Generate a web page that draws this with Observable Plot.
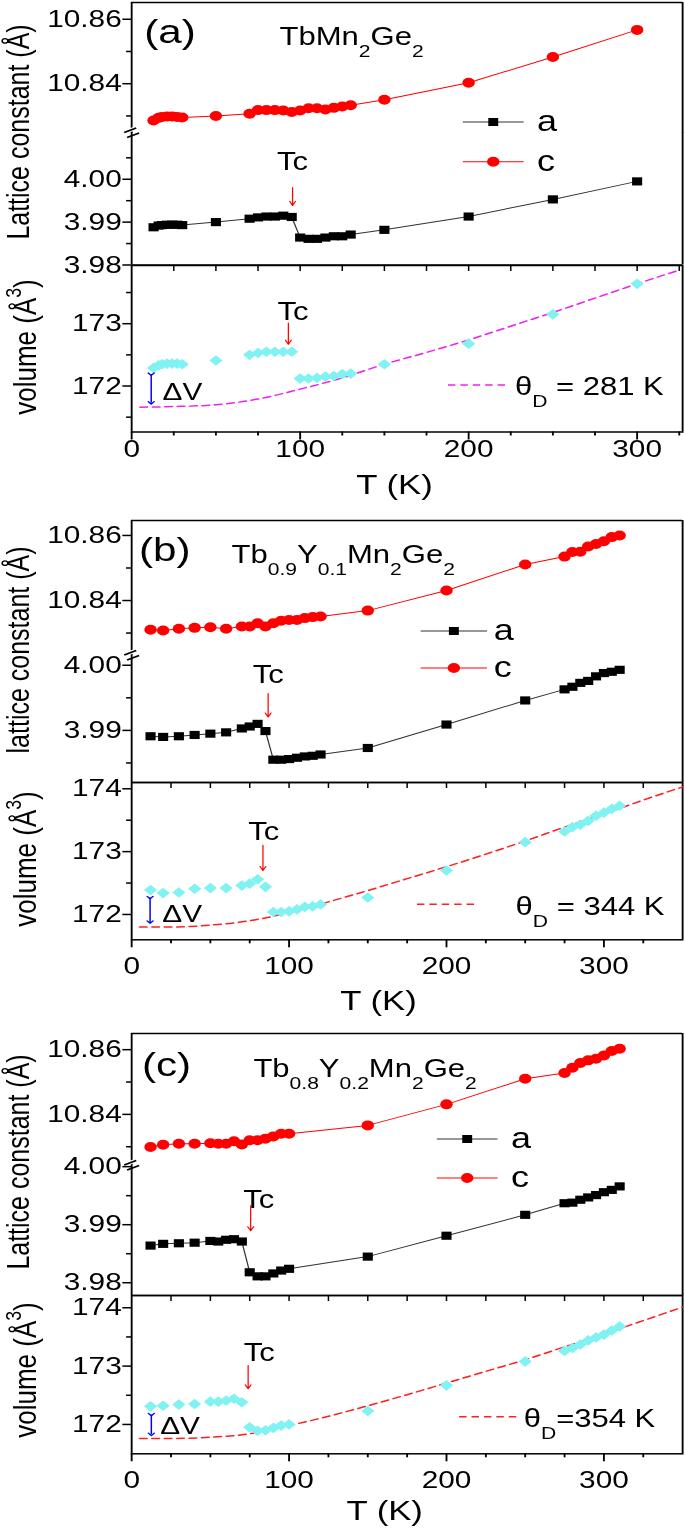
<!DOCTYPE html>
<html>
<head>
<meta charset="utf-8">
<script src="https://cdn.jsdelivr.net/npm/d3@7"></script>
<script src="https://cdn.jsdelivr.net/npm/@observablehq/plot@0.6"></script>
<style>
html,body{margin:0;padding:0;background:#fff;overflow:hidden;}
#fig{position:relative;width:552px;height:1531px;transform:scaleX(1.2409);transform-origin:0 0;font-family:"Liberation Sans",Arial,sans-serif;color:#000;}
.seg{position:absolute;left:0;width:552px;}
.seg svg{overflow:visible;display:block;}
#ov{position:absolute;left:0;top:0;overflow:visible;pointer-events:none;}
</style>
</head>
<body>
<div id="fig"></div>
<script>
// ================= DATA =================
// (a) TbMn2Ge2
const T_a = [13,16,18,21,24,27,30,50,70,75,80,85,90,95,100,105,110,115,120,125,130,150,200,250,300];
const latA_a = [3.9888,3.9892,3.9893,3.9894,3.9894,3.9894,3.9893,3.9900,3.9908,3.9911,3.9913,3.9913,3.9915,3.9912,3.9864,3.9861,3.9861,3.9864,3.9867,3.9867,3.9871,3.9882,3.9913,3.9953,3.9995];
const latC_a = [10.8286,10.8294,10.8297,10.8298,10.8298,10.8297,10.8295,10.8300,10.8307,10.8318,10.8318,10.8318,10.8317,10.8312,10.8317,10.8324,10.8324,10.8320,10.8325,10.8329,10.8333,10.8350,10.8403,10.8483,10.8567];
const vol_a = [172.29,172.33,172.35,172.36,172.36,172.36,172.35,172.41,172.50,172.53,172.55,172.55,172.55,172.55,172.12,172.12,172.13,172.15,172.16,172.19,172.20,172.35,172.68,173.15,173.64];
const debT_a = [5,25,50,75,100,125,150,175,200,225,250,275,300,325];
const debV_a = [171.66,171.67,171.70,171.79,171.95,172.13,172.35,172.54,172.74,172.96,173.18,173.41,173.64,173.86];

// (b) Tb0.9Y0.1Mn2Ge2
const T_b = [12,20,30,40,50,60,70,75,80,85,90,95,100,105,110,115,120,150,200,250,275,280,285,290,295,300,305,310];
const latA_b = [3.9891,3.9890,3.9891,3.9893,3.9895,3.9897,3.9903,3.9906,3.9910,3.9899,3.9855,3.9855,3.9856,3.9858,3.9860,3.9861,3.9863,3.9873,3.9909,3.9946,3.9963,3.9967,3.9973,3.9976,3.9983,3.9988,3.9990,3.9993];
const latC_b = [10.8310,10.8308,10.8313,10.8316,10.8318,10.8313,10.8320,10.8320,10.8330,10.8320,10.8330,10.8338,10.8340,10.8340,10.8346,10.8349,10.8351,10.8369,10.8431,10.8511,10.8535,10.8549,10.8550,10.8566,10.8574,10.8582,10.8595,10.8600];
const vol_b = [172.39,172.34,172.35,172.41,172.42,172.42,172.46,172.49,172.56,172.44,172.04,172.04,172.05,172.08,172.12,172.13,172.16,172.27,172.70,173.15,173.32,173.39,173.43,173.49,173.57,173.62,173.68,173.73];
const debT_b = [5,25,50,75,100,125,150,175,200,225,250,275,300,325,350];
const debV_b = [171.80,171.80,171.83,171.90,172.03,172.20,172.38,172.57,172.76,172.96,173.17,173.39,173.60,173.82,174.03];

// (c) Tb0.8Y0.2Mn2Ge2
const T_c = [12,20,30,40,50,55,60,65,70,75,80,85,90,95,100,150,200,250,275,280,285,290,295,300,305,310];
const latA_c = [3.9864,3.9867,3.9868,3.9869,3.9872,3.9871,3.9874,3.9875,3.9871,3.9818,3.9811,3.9811,3.9816,3.9821,3.9824,3.9845,3.9881,3.9917,3.9937,3.9938,3.9943,3.9947,3.9951,3.9956,3.9960,3.9966];
const latC_c = [10.8299,10.8306,10.8309,10.8309,10.8311,10.8309,10.8309,10.8317,10.8307,10.8320,10.8320,10.8325,10.8332,10.8340,10.8340,10.8366,10.8431,10.8510,10.8528,10.8544,10.8559,10.8567,10.8572,10.8582,10.8596,10.8603];
const vol_c = [172.31,172.32,172.34,172.35,172.39,172.39,172.41,172.44,172.38,171.95,171.89,171.90,171.94,171.98,172.00,172.23,172.67,173.08,173.26,173.31,173.37,173.44,173.49,173.54,173.61,173.68];
const debT_c = [5,25,50,75,100,125,150,175,200,225,250,275,300,325,350];
const debV_c = [171.76,171.76,171.78,171.84,171.98,172.14,172.32,172.51,172.71,172.91,173.11,173.33,173.55,173.78,174.01];

// Annotations: Tc arrows (T, from, to) and labels (T, value); ΔV arrows
const tcLat_a = [{T:95.5, from:3.9981, to:3.9939, labT:95.5, lab:4.0041}];
const tcLat_b = [{T:86.7, from:3.99565, to:3.99205, labT:86.8, lab:3.99846}];
const tcLat_c = [{T:75.6, from:3.99328, to:3.98897, labT:80.7, lab:3.99431}];
const tcVol_a = [{T:93, from:173.01, to:172.67, labT:95.8, lab:173.18}];
const tcVol_b = [{T:83.4, from:173.10, to:172.70, labT:83.9, lab:173.31}];
const tcVol_c = [{T:74, from:173.01, to:172.61, labT:81, lab:173.22}];
const dV_a = [{T:11.6, top:172.19, bot:171.73, labT:18.3, lab:171.895}];
const dV_b = [{T:11.7, top:172.27, bot:171.88, labT:19.5, lab:172.0}];
const dV_c = [{T:12.5, top:172.17, bot:171.83, labT:18.1, lab:171.97}];

// Tick values
const xMajor = [0,100,200,300];
const cMajor = [10.84,10.86], cMinor = [10.83,10.85];
const aMajor_a = [3.98,3.99,4.00], aMinor_a = [3.985,3.995,4.005];
const aMajor_b = [3.99,4.00], aMinor_b = [3.985,3.995];
const aMajor_c = [3.98,3.99,4.00], aMinor_c = [3.985,3.995];
const vMajor_a = [172,173], vMinor_a = [171.5,172.5,173.5];
const vMajor_bc = [172,173,174], vMinor_bc = [172.5,173.5];

const thetaD = [281, 344, 354];
const names = [
  [["Tb"],["Mn"],["2","sub"],["Ge"],["2","sub"]],
  [["Tb"],["0.9","sub"],["Y"],["0.1","sub"],["Mn"],["2","sub"],["Ge"],["2","sub"]],
  [["Tb"],["0.8","sub"],["Y"],["0.2","sub"],["Mn"],["2","sub"],["Ge"],["2","sub"]]
];

// ================= LAYOUT =================
const W = 552, ML = 105.6, MR = 2.4;
const STYLE = {overflow:"visible", background:"transparent", fontFamily:'"Liberation Sans", Arial, sans-serif', fontSize:"24px", color:"#000", maxWidth:"none"};
const fig = document.getElementById("fig");

const panels = [
  {T:T_a, A:latA_a, C:latC_a, V:vol_a, dT:debT_a, dVv:debV_a, xMax:327,
   g:{cTop:1.5, brk:132, sep:264.5, bot:431}, cDom:[10.8247,10.8652], aDom:[3.98,4.0109], vDom:[171.262,173.934],
   aMajor:aMajor_a, aMinor:aMinor_a, vMajor:vMajor_a, vMinor:vMinor_a, debColor:"#ee22ee",
   tcLat:tcLat_a, tcVol:tcVol_a, dv:dV_a, xPad:0, latLabel:"Lattice constant (Å)",
   lab:{p:"(a)", px:116.2, pb:43, nx:225.3, nb:45, legX:373, legX2:422, rowA:122, rowC:161.7, legT:432.8,
        thX:361, thX2:408.6, thY:385, thT:415, thB:395, thSep:" = ", tkx:318, tkb:484, latY:132, volY:347}},
  {T:T_b, A:latA_b, C:latC_b, V:vol_b, dT:debT_b, dVv:debV_b, xMax:350,
   g:{cTop:520, brk:655, sep:782, bot:939.3}, cDom:[10.8231,10.8646], aDom:[3.9820,4.0015], vDom:[171.597,174.10],
   aMajor:aMajor_b, aMinor:aMinor_b, vMajor:vMajor_bc, vMinor:vMinor_bc, debColor:"#ff2020",
   tcLat:tcLat_b, tcVol:tcVol_b, dv:dV_b, xPad:9, latLabel:"lattice constant (Å)",
   lab:{p:"(b)", px:112, pb:561, nx:186.6, nb:562.7, legX:339, legX2:392.5, rowA:631, rowC:668, legT:398,
        thX:336, thX2:385, thY:904.3, thT:415.5, thB:915, thSep:" = ", tkx:305, tkb:1000, latY:650, volY:859}},
  {T:T_c, A:latA_c, C:latC_c, V:vol_c, dT:debT_c, dVv:debV_c, xMax:350,
   g:{cTop:1033, brk:1165, sep:1295, bot:1453.3}, cDom:[10.8242,10.8650], aDom:[3.9778,4.0002], vDom:[171.497,174.21],
   aMajor:aMajor_c, aMinor:aMinor_c, vMajor:vMajor_bc, vMinor:vMinor_bc, debColor:"#ff2020",
   tcLat:tcLat_c, tcVol:tcVol_c, dv:dV_c, xPad:9, latLabel:"Lattice constant (Å)",
   lab:{p:"(c)", px:114.4, pb:1076, nx:204.2, nb:1076.7, legX:352, legX2:401, rowA:1139, rowC:1178, legT:411.8,
        thX:370, thX2:417.4, thY:1416.7, thT:422, thB:1426.7, thSep:"=", tkx:310, tkb:1510, latY:1162, volY:1370}}
];

function addSeg(top, height, mb, opts) {
  const svg = Plot.plot({width: W, height: height + mb, marginLeft: ML, marginRight: MR, marginTop: 0, marginBottom: mb, style: STYLE, ...opts});
  const d = document.createElement("div");
  d.className = "seg"; d.style.top = top + "px";
  d.appendChild(svg); fig.appendChild(d);
}

const f2 = d3.format(".2f");
const blank = () => "";

panels.forEach((p, k) => {
  const rows = p.T.map((t, i) => ({T: t, a: p.A[i], c: p.C[i], V: p.V[i]}));
  const deb = p.dT.map((t, i) => ({T: t, V: p.dVv[i]}));
  const xDom = [0, p.xMax];
  const g = p.g;

  // c (upper) segment
  addSeg(g.cTop, g.brk - g.cTop, 0, {
    x: {domain: xDom, axis: null},
    y: {domain: p.cDom},
    marks: [
      Plot.ruleX(xDom, {strokeWidth: 1.5}),
      Plot.ruleY([p.cDom[1]], {strokeWidth: 1.5}),
      Plot.axisY({ticks: cMajor, tickSize: 7, tickPadding: 1, tickFormat: f2, label: null, fontSize: 24, strokeWidth: 1.5}),
      Plot.axisY({ticks: cMinor, tickSize: 4, tickFormat: blank, label: null, strokeWidth: 1.5}),
      Plot.line(rows, {x: "T", y: "c", stroke: "#ff0000", strokeWidth: 1}),
      Plot.dot(rows, {x: "T", y: "c", r: 5, fill: "#ff0000"}),
      Plot.text(["="], {frameAnchor: "bottom-left", rotate: -25, fontSize: 22, fill: "#000", stroke: "#fff", strokeWidth: 2, lineAnchor: "middle", textAnchor: "middle"})
    ]
  });

  // a (lower) segment
  addSeg(g.brk, g.sep - g.brk, 0, {
    x: {domain: xDom, axis: null},
    y: {domain: p.aDom},
    marks: [
      Plot.ruleX(xDom, {strokeWidth: 1.5}),
      Plot.ruleY([p.aDom[0]], {strokeWidth: 1.5}),
      Plot.axisY({ticks: p.aMajor, tickSize: 7, tickPadding: 1, tickFormat: f2, label: null, fontSize: 24, strokeWidth: 1.5}),
      Plot.axisY({ticks: p.aMinor, tickSize: 4, tickFormat: blank, label: null, strokeWidth: 1.5}),
      Plot.line(rows, {x: "T", y: "a", stroke: "#333", strokeWidth: 1}),
      Plot.dot(rows, {x: "T", y: "a", symbol: "square", r: 4.6, fill: "#000"}),
      Plot.arrow(p.tcLat, {x1: "T", x2: "T", y1: "from", y2: "to", stroke: "#ff0000", strokeWidth: 1, headLength: 7}),
      Plot.text(p.tcLat, {x: "labT", y: "lab", text: () => "Tc", fontSize: 25, lineAnchor: "middle"})
    ]
  });

  // volume segment
  const xMinor = d3.range(25, p.xMax, 25).filter(v => v % 100 !== 0);
  const xTop = d3.range(25, p.xMax, 25);
  addSeg(g.sep, g.bot - g.sep, 70, {
    x: {domain: xDom},
    y: {domain: p.vDom},
    marks: [
      Plot.frame({strokeWidth: 1.5}),
      Plot.axisY({ticks: p.vMajor, tickSize: 7, tickPadding: 1, tickFormat: d3.format("d"), label: null, fontSize: 24, strokeWidth: 1.5}),
      Plot.axisY({ticks: p.vMinor, tickSize: 4, tickFormat: blank, label: null, strokeWidth: 1.5}),
      Plot.axisX({anchor: "bottom", ticks: xMajor, tickSize: 8, tickPadding: p.xPad, tickFormat: d3.format("d"), label: null, fontSize: 24, strokeWidth: 1.5}),
      Plot.axisX({anchor: "bottom", ticks: xMinor, tickSize: 4, tickFormat: blank, label: null, strokeWidth: 1.5}),
      Plot.axisX({anchor: "top", ticks: xTop, tickSize: -5, tickFormat: blank, label: null, strokeWidth: 1.2}),
      Plot.line(deb, {x: "T", y: "V", stroke: p.debColor, strokeWidth: 1.5, strokeDasharray: "6,4", curve: "monotone-x"}),
      Plot.dot(rows, {x: "T", y: "V", symbol: "diamond2", r: 4.8, fill: "#80f2f2"}),
      Plot.arrow(p.tcVol, {x1: "T", x2: "T", y1: "from", y2: "to", stroke: "#ff0000", strokeWidth: 1, headLength: 7}),
      Plot.text(p.tcVol, {x: "labT", y: "lab", text: () => "Tc", fontSize: 25, lineAnchor: "middle"}),
      Plot.link(p.dv, {x1: "T", x2: "T", y1: "top", y2: "bot", stroke: "#0000ff", strokeWidth: 1.2, markerStart: "arrow", markerEnd: "arrow"}),
      Plot.text(p.dv, {x: "labT", y: "lab", text: () => "ΔV", fontSize: 24, textAnchor: "start", lineAnchor: "middle"})
    ]
  });
});

// ================= OVERLAY TEXT & LEGENDS =================
const ov = d3.select(fig).append("svg").attr("id", "ov").attr("width", W).attr("height", 1531)
  .attr("font-family", '"Liberation Sans", Arial, sans-serif').attr("fill", "#000");

function rich(x, y, parts, fs, anchor = "start") {
  const t = ov.append("text").attr("x", x).attr("y", y).attr("font-size", fs).attr("text-anchor", anchor);
  let shift = 0;
  for (const [s, kind] of parts) {
    const target = kind === "sub" ? 0.5 * fs : kind === "sup" ? -0.45 * fs : 0;
    t.append("tspan").text(s).attr("dy", (target - shift).toFixed(2))
      .attr("font-size", kind ? fs * 0.68 : fs);
    shift = target;
  }
  return t;
}

function rotTitle(cx, cy, parts, fs) {
  const gg = ov.append("g").attr("transform", `translate(${cx},${cy}) rotate(-90)`);
  const t = gg.append("text").attr("x", 0).attr("y", 0).attr("dy", "0.35em").attr("font-size", fs).attr("text-anchor", "middle");
  let shift = 0;
  for (const [s, kind] of parts) {
    const target = kind === "sup" ? -0.45 * fs : 0;
    t.append("tspan").text(s).attr("dy", (target - shift).toFixed(2)).attr("font-size", kind ? fs * 0.68 : fs);
    shift = target;
  }
}

panels.forEach((p, k) => {
  const L = p.lab;
  ov.append("text").attr("x", L.px).attr("y", L.pb).attr("font-size", 34).text(L.p);
  rich(L.nx, L.nb, names[k], 25);

  // a / c legend
  const rowsL = [
    {y: L.rowA, color: "#333", sym: d3.symbolSquare, size: 64, fill: "#000", txt: "a"},
    {y: L.rowC, color: "#ff0000", sym: d3.symbolCircle, size: Math.PI * 25, fill: "#ff0000", txt: "c"}
  ];
  rowsL.forEach(r => {
    ov.append("line").attr("x1", L.legX).attr("x2", L.legX2).attr("y1", r.y).attr("y2", r.y).attr("stroke", r.color).attr("stroke-width", 1);
    ov.append("path").attr("d", d3.symbol(r.sym, r.size)()).attr("transform", `translate(${(L.legX + L.legX2) / 2},${r.y})`).attr("fill", r.fill);
    ov.append("text").attr("x", L.legT).attr("y", r.y + 9).attr("font-size", 29).text(r.txt);
  });

  // Debye legend
  ov.append("line").attr("x1", L.thX).attr("x2", L.thX2).attr("y1", L.thY).attr("y2", L.thY)
    .attr("stroke", p.debColor).attr("stroke-width", 1.5).attr("stroke-dasharray", "6,4");
  rich(L.thT, L.thB, [["θ"], ["D", "sub"], [L.thSep + thetaD[k] + " K"]], 25);

  // axis titles
  rotTitle(23, L.latY, [[p.latLabel]], 25);
  rotTitle(29, L.volY, [["volume (Å"], ["3", "sup"], [")"]], 26);
  ov.append("text").attr("x", L.tkx).attr("y", L.tkb + 10).attr("font-size", 28).attr("text-anchor", "middle").text("T (K)");
});
</script>
</body>
</html>
